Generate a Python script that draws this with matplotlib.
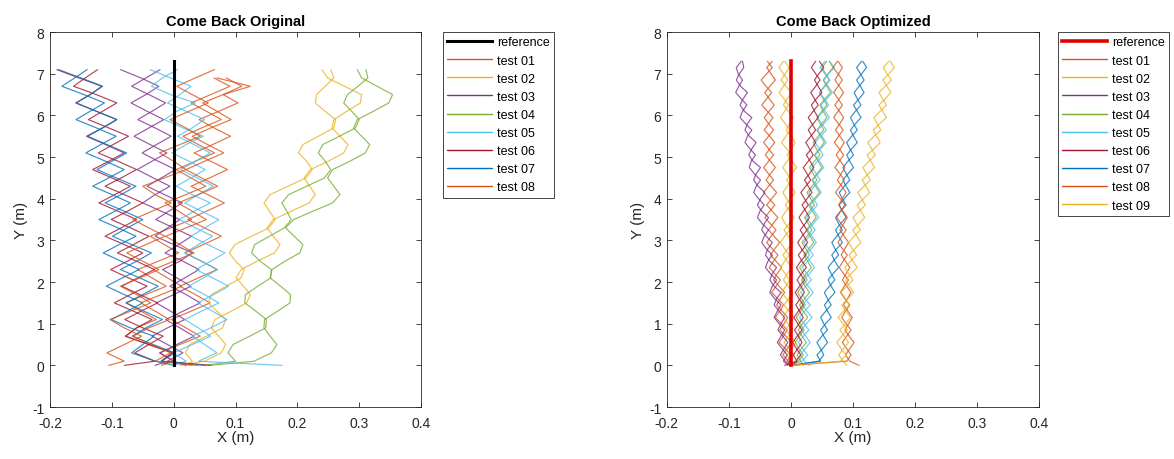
import matplotlib
matplotlib.use("Agg")
import matplotlib.pyplot as plt

plt.rcParams['font.family'] = ['Liberation Sans', 'DejaVu Sans']
plt.rcParams['axes.unicode_minus'] = False

y_orig = [0.0, 0.1, 0.3, 0.5, 0.7, 0.9, 1.1, 1.3, 1.5, 1.7, 1.9, 2.1, 2.3, 2.5, 2.7, 2.9,
          3.1, 3.3, 3.5, 3.7, 3.9, 4.1, 4.3, 4.5, 4.7, 4.9, 5.1, 5.3, 5.5, 5.7, 5.9, 6.1,
          6.3, 6.5, 6.7, 6.9, 7.1]
y_opt = [0.0, 0.1, 0.25, 0.4, 0.55, 0.7, 0.85, 1.0, 1.15, 1.3, 1.45, 1.6, 1.75, 1.9, 2.05,
         2.2, 2.35, 2.5, 2.65, 2.8, 2.95, 3.1, 3.25, 3.4, 3.55, 3.7, 3.85, 4.0, 4.15, 4.3,
         4.45, 4.6, 4.75, 4.9, 5.05, 5.2, 5.35, 5.5, 5.65, 5.8, 5.95, 6.1, 6.25, 6.4, 6.55,
         6.7, 6.85, 7.0, 7.15, 7.3]

ref_x = [0.0, 0.0]
ref_y = [0.0, 7.3]

test_names = ['test 01', 'test 02', 'test 03', 'test 04', 'test 05',
              'test 06', 'test 07', 'test 08', 'test 09']
test_colors = ['#D95319', '#EDB120', '#7E2F8E', '#77AC30', '#4DBEEE',
               '#A2142F', '#0072BD', '#D95319', '#EDB120']

x_ticks = [-0.2, -0.1, 0.0, 0.1, 0.2, 0.3, 0.4]
x_tick_labels = ['-0.2', '-0.1', '0', '0.1', '0.2', '0.3', '0.4']
y_ticks = [-1, 0, 1, 2, 3, 4, 5, 6, 7, 8]

# ---- Come Back Original: x (m) of the two passes of each test ----
orig_t01_a = [.030, -.020, -.002, -.040, -.078, -.060, -.028, -.053, -.077, -.045, -.012, -.035,
              -.058, -.025, .008, -.015, -.038, -.005, .029, .008, -.014, .020, .052, .028,
              .004, .035, .066, .040, .015, .045, .077, .053, .028, .060, .091, .065]
orig_t01_b = [-.020, .000, -.023, .010, .043, .020, -.004, .028, .059, .035, .010, .040,
              .070, .045, .018, .048, .077, .050, .023, .053, .082, .055, .028, .058,
              .087, .060, .033, .063, .092, .065, .041, .073, .104, .080, .124, .070]
orig_t02_a = [.010, .050, .077, .084, .073, .061, .067, .093, .118, .124, .113, .101, .109,
              .135, .163, .172, .161, .151, .161, .190, .219, .229, .220, .211, .221, .250,
              .275, .282, .269, .256, .259, .280, .302, .304, .276, .249, .240]
orig_t02_b = [.020, .030, .019, .026, .053, .079, .084, .070, .056, .061, .085, .109, .114,
              .100, .090, .099, .126, .154, .164, .155, .146, .156, .185, .214, .224, .215,
              .202, .209, .234, .259, .262, .245, .229, .231, .245, .259, .254]
orig_t03_a = [-.030, -.010, .015, -.010, -.035, -.010, .018, -.005, -.028, .000, .028, .005,
              -.018, .010, .030, .000, -.030, -.010, .010, -.020, -.050, -.030, -.006, -.033,
              -.059, -.035, -.011, -.038, -.064, -.040, -.016, -.043, -.069, -.045, -.024,
              -.053, -.086]
orig_t03_b = [.020, .000, -.022, .005, .033, .010, -.013, .015, .043, .020, -.006, .018,
              .041, .015, -.014, .008, .029, .000, -.029, -.008, .014, -.015, -.043, -.020,
              .003, -.025, -.051, -.028, -.004, -.030, -.058, -.035, -.013, -.040, -.068,
              -.045, -.022]
orig_t04_a = [.060, .130, .158, .167, .156, .146, .147, .168, .188, .189, .173, .156, .159,
              .180, .204, .209, .195, .181, .194, .225, .257, .269, .259, .249, .257, .285,
              .310, .317, .304, .291, .297, .323, .348, .354, .329, .304, .297]
orig_t04_b = [.050, .100, .088, .096, .123, .149, .150, .133, .115, .116, .136, .157, .158,
              .140, .126, .131, .155, .179, .190, .183, .175, .186, .215, .244, .254, .245,
              .234, .241, .268, .294, .300, .288, .275, .281, .298, .314, .311]
orig_t05_a = [.175, .040, .070, .050, .030, .060, .086, .063, .039, .065, .089, .063, .036,
              .060, .083, .055, .028, .050, .073, .045, .018, .040, .064, .038, .011, .035,
              .059, .033, .006, .030, .050, .020, -.010, .010, .028, -.005, -.038]
orig_t05_b = [.000, .020, .000, .030, .060, .040, .018, .045, .073, .050, .024, .048, .071,
              .045, .018, .040, .063, .035, .009, .033, .059, .030, .004, .028, .051, .025,
              -.003, .020, .048, .015, -.015, .005, .035, -.005, -.036, -.018, .006]
orig_t06_a = [.060, -.020, -.002, -.040, -.078, -.060, -.035, -.065, -.096, -.070, -.043,
              -.073, -.102, -.075, -.050, -.080, -.111, -.085, -.060, -.090, -.121, -.095,
              -.070, -.100, -.131, -.105, -.080, -.110, -.141, -.115, -.092, -.125, -.158,
              -.135, -.116, -.153, -.189]
orig_t06_b = [-.080, -.030, -.063, -.040, -.017, -.050, -.079, -.053, -.026, -.055, -.084,
              -.058, -.031, -.060, -.091, -.065, -.040, -.070, -.101, -.075, -.050, -.080,
              -.111, -.085, -.060, -.090, -.122, -.098, -.073, -.105, -.138, -.115, -.092,
              -.125, -.162, -.143, -.123]
orig_t07_a = [.000, -.030, -.068, -.050, -.032, -.070, -.101, -.075, -.050, -.080, -.109,
              -.083, -.056, -.085, -.114, -.088, -.061, -.090, -.121, -.095, -.070, -.100,
              -.131, -.105, -.080, -.110, -.142, -.118, -.093, -.125, -.158, -.135, -.112,
              -.145, -.181, -.160, -.140]
orig_t07_b = [.050, -.020, .002, -.033, -.067, -.045, -.018, -.048, -.077, -.050, -.025,
              -.055, -.086, -.060, -.036, -.068, -.099, -.075, -.050, -.080, -.111, -.085,
              -.061, -.093, -.124, -.100, -.076, -.108, -.139, -.115, -.092, -.125, -.158,
              -.135, -.115, -.150, -.186]
orig_t08_a = [-.105, -.080, -.108, -.080, -.052, -.080, -.103, -.070, -.037, -.060, -.086,
              -.055, -.024, -.050, -.076, -.045, -.014, -.040, -.066, -.035, -.004, -.030,
              -.050, -.015, .020, .000, -.023, .010, .043, .020, -.006, .025, .056, .030,
              .005, .035, .066]
orig_t08_b = [.040, -.030, -.005, -.035, -.066, -.040, -.007, -.030, -.053, -.020, .013,
              -.010, -.033, .000, .033, .010, -.013, .020, .053, .030, .007, .040, .071,
              .045, .020, .050, .081, .055, .030, .060, .093, .070, .047, .080, .110, .085]

# ---- Come Back Optimized ----
opt_t01_a = [.000, -.006, .000, -.009, -.019, -.012, -.006, -.015, -.025, -.018, -.012, -.021,
             -.031, -.024, -.017, -.026, -.035, -.028, -.021, -.030, -.039, -.032, -.024,
             -.033, -.042, -.034, -.026, -.035, -.044, -.036, -.028, -.036, -.044, -.036,
             -.028, -.036, -.044, -.036, -.028, -.036, -.043, -.035, -.027, -.035, -.042,
             -.034, -.025, -.032, -.039, -.030]
opt_t01_b = [.005, -.004, -.013, -.006, .001, -.008, -.018, -.011, -.005, -.014, -.023, -.017,
             -.010, -.019, -.028, -.022, -.015, -.024, -.033, -.026, -.018, -.027, -.036,
             -.029, -.021, -.030, -.039, -.031, -.023, -.032, -.040, -.033, -.025, -.033,
             -.041, -.034, -.026, -.034, -.043, -.036, -.029, -.038, -.047, -.039, -.031,
             -.040, -.048, -.039, -.030, -.038]
opt_t02_a = [.000, -.002, .005, -.003, -.011, -.004, .003, -.005, -.013, -.006, .001, -.007,
             -.015, -.008, -.002, -.009, -.017, -.010, -.003, -.010, -.017, -.010, -.002,
             -.009, -.015, -.008, .000, -.007, -.013, -.006, .001, -.006, -.013, -.006, .001,
             -.007, -.015, -.008, -.002, -.009, -.017, -.010, -.004, -.011, -.019, -.012,
             -.005, -.012, -.019, -.012]
opt_t02_b = [.000, .002, -.006, .001, .008, .000, -.008, -.002, .005, -.003, -.011, -.004,
             .003, -.005, -.012, -.006, .001, -.006, -.013, -.005, .003, -.004, -.011, -.003,
             .005, -.002, -.009, -.001, .007, .000, -.007, .001, .009, .002, -.006, .001,
             .007, .000, -.008, -.002, .004, -.004, -.012, -.006, .001, -.008, -.016, -.009,
             -.003, -.010]
opt_t03_a = [-.005, -.012, -.006, -.014, -.022, -.016, -.010, -.019, -.027, -.022, -.016,
             -.026, -.034, -.030, -.023, -.033, -.041, -.037, -.030, -.040, -.047, -.043,
             -.036, -.046, -.054, -.050, -.043, -.052, -.060, -.056, -.049, -.059, -.067,
             -.064, -.057, -.066, -.074, -.070, -.063, -.073, -.082, -.078, -.071, -.080,
             -.089, -.084, -.078, -.085, -.088, -.080]
opt_t03_b = [-.002, -.009, -.017, -.011, -.005, -.013, -.021, -.016, -.010, -.019, -.027,
             -.023, -.016, -.027, -.034, -.030, -.023, -.034, -.041, -.037, -.030, -.040,
             -.047, -.043, -.036, -.047, -.054, -.049, -.042, -.053, -.060, -.056, -.049,
             -.061, -.068, -.063, -.056, -.067, -.074, -.070, -.063, -.075, -.082, -.077,
             -.070, -.081, -.088, -.083, -.076, -.078]
opt_t04_a = [.000, .012, .020, .013, .007, .014, .021, .015, .009, .016, .023, .017, .011,
             .018, .026, .020, .014, .022, .030, .024, .018, .026, .034, .028, .022, .030,
             .038, .032, .026, .034, .042, .036, .030, .038, .047, .041, .036, .044, .053,
             .047, .042, .050, .058, .052, .046, .054, .062, .056, .050, .058]
opt_t04_b = [.020, .016, .010, .017, .025, .018, .012, .019, .027, .020, .014, .022, .030,
             .023, .017, .025, .033, .027, .021, .029, .037, .031, .025, .033, .041, .035,
             .029, .038, .046, .040, .034, .042, .050, .044, .038, .046, .054, .048, .042,
             .050, .058, .052, .047, .055, .064, .058, .052, .060, .068, .062]
opt_t05_a = [.000, .018, .027, .019, .012, .020, .029, .021, .014, .022, .031, .023, .016,
             .024, .033, .026, .018, .027, .036, .029, .021, .030, .039, .032, .025, .034,
             .043, .036, .029, .038, .047, .041, .034, .043, .052, .046, .039, .048, .057,
             .050, .043, .052, .061, .054, .046, .055, .063, .055, .047, .055]
opt_t05_b = [.030, .022, .015, .023, .031, .024, .017, .025, .034, .026, .019, .027, .036,
             .028, .021, .030, .038, .031, .024, .033, .041, .034, .027, .036, .045, .038,
             .031, .040, .049, .042, .035, .044, .053, .046, .039, .048, .057, .050, .043,
             .053, .062, .055, .048, .058, .067, .060, .053, .061, .070, .062]
opt_t06_a = [-.010, .008, .016, .009, .003, .010, .018, .011, .005, .012, .020, .013, .007,
             .014, .022, .015, .009, .016, .024, .017, .011, .018, .026, .019, .013, .020,
             .028, .022, .016, .024, .032, .026, .020, .028, .036, .030, .024, .032, .040,
             .034, .028, .036, .044, .038, .032, .040, .047, .040, .033, .040]
opt_t06_b = [.000, .010, .004, .011, .018, .012, .006, .013, .020, .014, .008, .015, .022,
             .016, .010, .017, .025, .018, .012, .020, .027, .021, .015, .023, .030, .024,
             .018, .026, .034, .028, .022, .030, .037, .031, .025, .033, .040, .034, .028,
             .036, .044, .038, .033, .041, .050, .044, .038, .045, .053, .046]
opt_t07_a = [.000, .045, .053, .048, .042, .050, .059, .053, .048, .056, .065, .059, .054,
             .062, .071, .065, .060, .068, .077, .071, .066, .074, .083, .077, .072, .080,
             .089, .083, .078, .086, .095, .089, .084, .092, .101, .095, .090, .098, .107,
             .101, .096, .104, .113, .107, .102, .110, .118, .112, .106, .114]
opt_t07_b = [.005, .048, .042, .051, .059, .053, .048, .056, .065, .059, .054, .062, .071,
             .065, .060, .068, .077, .071, .066, .074, .083, .077, .072, .080, .089, .083,
             .078, .086, .095, .089, .084, .092, .101, .095, .090, .098, .107, .101, .096,
             .104, .113, .107, .101, .110, .118, .112, .106, .114, .122, .116]
opt_t08_a = [.000, .090, .097, .090, .083, .090, .097, .089, .082, .088, .095, .087, .080,
             .086, .093, .085, .078, .084, .091, .083, .076, .082, .089, .081, .074, .080,
             .087, .080, .072, .079, .086, .079, .071, .078, .085, .078, .070, .077, .084,
             .077, .069, .076, .083, .076, .069, .076, .083, .076, .068, .075]
opt_t08_b = [.110, .095, .088, .095, .102, .094, .087, .093, .099, .092, .085, .091, .097,
             .090, .083, .089, .095, .088, .081, .087, .093, .086, .079, .085, .091, .084,
             .077, .083, .089, .082, .075, .081, .087, .080, .073, .080, .086, .079, .072,
             .079, .085, .078, .071, .078, .085, .078, .071, .077, .083, .076]
opt_t09_a = [.000, .080, .089, .081, .074, .082, .091, .084, .076, .085, .094, .088, .081,
             .090, .100, .093, .087, .096, .106, .099, .093, .102, .112, .106, .100, .110,
             .120, .114, .108, .118, .128, .122, .116, .126, .136, .130, .124, .134, .145,
             .139, .134, .144, .154, .148, .142, .152, .162, .155, .149, .158]
opt_t09_b = [.090, .084, .077, .085, .093, .086, .079, .088, .096, .089, .082, .092, .101,
             .094, .088, .097, .107, .100, .094, .103, .113, .106, .100, .110, .119, .113,
             .107, .117, .127, .121, .115, .125, .135, .129, .123, .134, .144, .138, .133,
             .143, .154, .148, .142, .152, .161, .155, .148, .158, .167, .160]

orig_runs = [(orig_t01_a, orig_t01_b), (orig_t02_a, orig_t02_b), (orig_t03_a, orig_t03_b),
             (orig_t04_a, orig_t04_b), (orig_t05_a, orig_t05_b), (orig_t06_a, orig_t06_b),
             (orig_t07_a, orig_t07_b), (orig_t08_a, orig_t08_b)]
opt_runs = [(opt_t01_a, opt_t01_b), (opt_t02_a, opt_t02_b), (opt_t03_a, opt_t03_b),
            (opt_t04_a, opt_t04_b), (opt_t05_a, opt_t05_b), (opt_t06_a, opt_t06_b),
            (opt_t07_a, opt_t07_b), (opt_t08_a, opt_t08_b), (opt_t09_a, opt_t09_b)]

axis_col = '#262626'


def draw_panel(ax, title, runs, ys, ref_color, ref_lw, leg_x):
    handles = []
    h, = ax.plot(ref_x, ref_y, color=ref_color, lw=ref_lw, label='reference', zorder=5)
    handles.append(h)
    for k, (xa, xb) in enumerate(runs):
        col = test_colors[k]
        for j, xs in enumerate((xa, xb)):
            n = min(len(xs), len(ys))
            h, = ax.plot(xs[:n], ys[:n], color=col, lw=0.85, alpha=0.8,
                         solid_joinstyle='round', solid_capstyle='round',
                         label=test_names[k] if j == 0 else None)
            if j == 0:
                handles.append(h)

    ax.set_xlim(-0.2, 0.4)
    ax.set_ylim(-1, 8)
    ax.set_xticks(x_ticks)
    ax.set_xticklabels(x_tick_labels)
    ax.set_yticks(y_ticks)
    ax.tick_params(direction='in', top=True, right=True, length=3.5, width=0.6,
                   colors=axis_col, labelsize=10)
    ax.tick_params(axis='x', pad=6.5)
    ax.tick_params(axis='y', pad=4)
    for sp in ax.spines.values():
        sp.set_linewidth(0.6)
        sp.set_color(axis_col)
    ax.set_xlabel('X (m)', fontsize=11, color=axis_col, labelpad=0)
    ax.set_ylabel('Y (m)', fontsize=11, color=axis_col, labelpad=3)
    ax.set_title(title, fontsize=10.5, fontweight='bold', pad=5)

    leg = ax.legend(handles=handles, loc='upper left', bbox_to_anchor=(leg_x, 1.0),
                    borderaxespad=0, fontsize=9, handlelength=3.6, handletextpad=0.4,
                    labelspacing=0.49, borderpad=0.35, fancybox=False, framealpha=1,
                    edgecolor=axis_col)
    leg.get_frame().set_linewidth(0.6)
    for line in leg.get_lines()[1:]:
        line.set_linewidth(1.0)
        line.set_alpha(1.0)


fig = plt.figure(figsize=(11.74, 4.6), dpi=100)
ax1 = fig.add_axes([0.0426, 0.113, 0.316, 0.815])
ax2 = fig.add_axes([0.568, 0.113, 0.317, 0.815])

draw_panel(ax1, 'Come Back Original', orig_runs, y_orig, 'black', 2.2, 1.059)
draw_panel(ax2, 'Come Back Optimized', opt_runs, y_opt, '#E00000', 2.6, 1.051)

fig.savefig('out.png', dpi=100)
